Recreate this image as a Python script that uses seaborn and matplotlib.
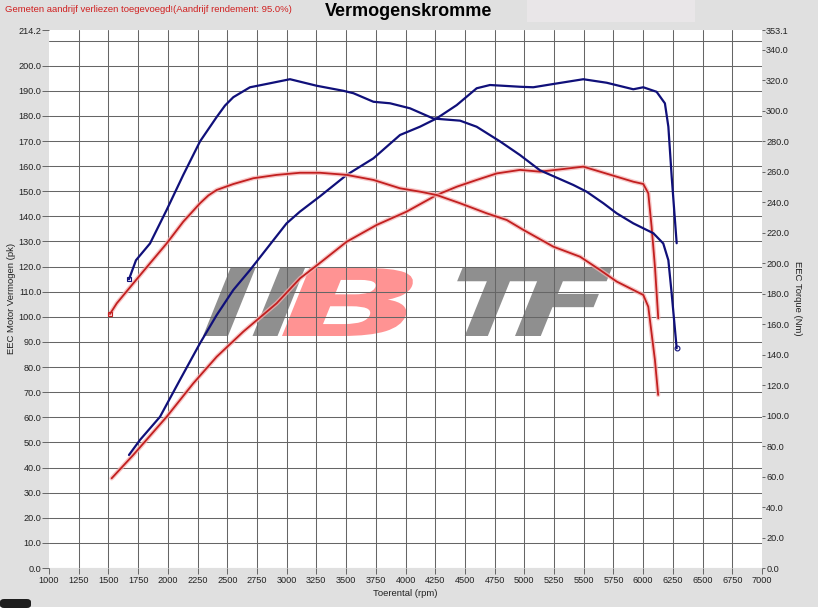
import numpy as np
import pandas as pd
import matplotlib
matplotlib.use("Agg")
import matplotlib.pyplot as plt
import matplotlib.patheffects as pe
from matplotlib.textpath import TextPath
from matplotlib.font_manager import FontProperties
from matplotlib.patches import PathPatch, Rectangle, FancyBboxPatch
from matplotlib.transforms import Affine2D, IdentityTransform
import seaborn as sns

# ---------------- data ----------------
blue_power_rpm = [1673, 1766, 1934, 2102, 2271, 2411, 2551, 2691, 2999, 3112, 3281, 3505, 3730,
                  3954, 4122, 4262, 4431, 4599, 4711, 4964, 5075, 5244, 5496, 5693, 5917, 6001,
                  6113, 6183, 6212, 6240, 6282]
blue_power_pk = [45.0, 51.0, 60.2, 74.9, 89.5, 100.7, 110.7, 118.6, 137.2, 141.9, 148.0, 156.5, 163.1,
                 172.4, 175.7, 179.0, 184.3, 191.0, 192.3, 191.6, 191.4, 192.7, 194.6, 193.2, 190.6, 191.4,
                 189.6, 185.0, 175.7, 155.8, 129.3]

blue_torque_rpm = [1673, 1732, 1850, 1990, 2130, 2271, 2411, 2481, 2551, 2691, 2832, 3028, 3253, 3477, 3562,
                   3730, 3870, 4038, 4234, 4459, 4599, 4795, 4964, 5132, 5412, 5524, 5665, 5777, 5917,
                   6086, 6169, 6212, 6240, 6282]
blue_torque_nm = [189.5, 202.0, 213.0, 235.0, 258.0, 280.0, 296.0, 303.5, 309.0, 315.5, 317.7, 320.8, 316.5, 313.2,
                  311.6, 306.0, 305.0, 301.7, 295.0, 293.6, 289.6, 280.0, 271.0, 261.0, 251.4, 247.0, 239.4,
                  232.8, 226.2, 219.7, 213.0, 202.0, 180.0, 144.2]

red_power_rpm = [1527, 1709, 1990, 2214, 2411, 2635, 2916, 3112, 3281, 3505, 3758, 4010, 4262, 4431,
                 4599, 4768, 4964, 5132, 5300, 5496, 5637, 5777, 5917, 6001, 6043, 6071, 6099, 6127]
red_power_pk = [35.7, 45.0, 60.2, 73.5, 84.1, 94.1, 105.4, 115.3, 121.5, 129.9, 136.6, 141.9, 148.5, 151.8,
                154.5, 157.1, 158.5, 157.8, 158.7, 159.8, 157.8, 155.8, 153.8, 152.9, 149.2, 135.9, 120.0, 99.4]

red_torque_rpm = [1513, 1570, 1709, 1850, 1990, 2130, 2271, 2341, 2411, 2551, 2719, 2916, 3112, 3281, 3505,
                  3730, 3954, 4122, 4262, 4459, 4683, 4852, 4992, 5244, 5469, 5637, 5777, 5917, 6001,
                  6043, 6071, 6099, 6126]
red_torque_nm = [166.7, 173.7, 186.8, 200.0, 213.0, 227.3, 239.4, 244.5, 248.1, 252.0, 255.8, 258.0, 259.4, 259.4,
                 258.0, 254.7, 249.2, 247.0, 244.8, 239.4, 232.8, 228.4, 221.9, 210.9, 204.3, 195.6, 188.0,
                 182.5, 179.2, 171.5, 154.0, 136.5, 113.6]

x_ticks = list(range(1000, 7001, 250))
left_ticks = [float(v) for v in range(0, 201, 10)] + [214.2]
right_ticks = [float(v) for v in range(0, 341, 20)] + [353.1]

title = "Vermogenskromme"
note = "Gemeten aandrijf verliezen toegevoegd!(Aandrijf rendement: 95.0%)"
xlabel = "Toerental (rpm)"
ylabel_left = "EEC Motor Vermogen (pk)"
ylabel_right = "EEC Torque (Nm)"

# ---------------- style ----------------
sns.set_theme(style="white")
plt.rcParams['font.family'] = ['Liberation Sans', 'DejaVu Sans']

W, H = 821, 609
fig = plt.figure(figsize=(W / 100, H / 100), dpi=100)
fig.patch.set_facecolor("white")
bg_grey = "#e0e0e0"
fig.add_artist(Rectangle((0, 2.5 / H), 818 / W, 1.0, transform=fig.transFigure,
                         facecolor=bg_grey, edgecolor="none", zorder=-10))
# lighter box near top
fig.add_artist(Rectangle((527 / W, 1 - 22 / H), (695 - 527) / W, 22 / H, transform=fig.transFigure,
                         facecolor="#e9e6e8", edgecolor="none", zorder=-8))
# dark tab bottom-left
fig.add_artist(FancyBboxPatch((0, 1.0 / H), 31 / W, 9 / H, boxstyle="round,pad=0,rounding_size=0.005",
                              transform=fig.transFigure, facecolor="#1e1e1e", edgecolor="none", zorder=-7))

ax = fig.add_axes([49 / W, 1 - 568 / H, (762 - 49) / W, (568 - 30) / H])
ax.set_facecolor("white")
ax.set_xlim(1000, 7000)
ax.set_ylim(0, 214.2)
ax2 = ax.twinx()
ax2.set_ylim(0, 353.1)

for a in (ax, ax2):
    for s in a.spines.values():
        s.set_visible(False)

# watermark logo (behind grid)
def logo_piece(text, x0, x1, ytop, ybot, color, slant=22):
    tp = TextPath((0, 0), text, size=1, prop=FontProperties(family="DejaVu Sans", weight="bold"))
    bb = tp.get_extents()
    h = ybot - ytop
    shear = h * np.tan(np.radians(slant))
    sx = ((x1 - x0) - shear) / bb.width
    sy = h / bb.height
    tr = (Affine2D().translate(-bb.x0, -bb.y0).scale(sx, sy)
          .skew_deg(slant, 0).translate(x0, H - ybot))
    path = tr.transform_path(tp)
    p = PathPatch(path, facecolor=color, edgecolor="none", transform=IdentityTransform(), zorder=0.5)
    ax.add_patch(p)

logo_piece("II", 203, 305, 268, 336, "#8f8f8f")
logo_piece("B", 282, 425, 268, 336, "#ff9393")
logo_piece("T", 435, 545, 268, 336, "#8f8f8f")
logo_piece("F", 515, 612, 268, 336, "#8f8f8f")

grid_c = "#666666"
for xv in range(1250, 7000, 250):
    ax.axvline(xv, color=grid_c, lw=0.75, zorder=1)
for yv in range(0, 211, 10):
    ax.axhline(yv, color=grid_c, lw=0.75, zorder=1)

blue = "#10107a"
red = "#c21f1f"
glow_red = [pe.Stroke(linewidth=3.2, foreground="#f5b3b3", alpha=0.75), pe.Normal()]

df_bp = pd.DataFrame({"rpm": blue_power_rpm, "val": blue_power_pk})
df_rp = pd.DataFrame({"rpm": red_power_rpm, "val": red_power_pk})
df_bt = pd.DataFrame({"rpm": blue_torque_rpm, "val": blue_torque_nm})
df_rt = pd.DataFrame({"rpm": red_torque_rpm, "val": red_torque_nm})

sns.lineplot(data=df_rp, x="rpm", y="val", ax=ax, color=red, lw=1.3, sort=False, zorder=3,
             path_effects=glow_red)
sns.lineplot(data=df_bp, x="rpm", y="val", ax=ax, color=blue, lw=1.6, sort=False, zorder=4)
sns.lineplot(data=df_rt, x="rpm", y="val", ax=ax2, color=red, lw=1.3, sort=False, zorder=3,
             path_effects=glow_red)
sns.lineplot(data=df_bt, x="rpm", y="val", ax=ax2, color=blue, lw=1.6, sort=False, zorder=4)

# endpoint markers
ax2.plot(blue_torque_rpm[0], blue_torque_nm[0], marker="s", ms=3, mfc="none", mec=blue, mew=0.8, zorder=5)
ax2.plot(blue_torque_rpm[-1], blue_torque_nm[-1], marker="o", ms=3.5, mfc="none", mec=blue, mew=0.8, zorder=5)
ax2.plot(red_torque_rpm[0], red_torque_nm[0], marker="s", ms=3, mfc="none", mec=red, mew=0.8, zorder=5)

ax.set_xticks(x_ticks)
ax.set_xticklabels([str(v) for v in x_ticks])
ax.set_yticks(left_ticks)
ax.set_yticklabels([f"{v:.1f}" for v in left_ticks])
ax2.set_yticks(right_ticks)
ax2.set_yticklabels([f"{v:.1f}" for v in right_ticks])

tick_c = "#666666"
ax.tick_params(axis="x", which="major", labelsize=6.6, colors=tick_c, labelcolor="#222222",
               length=4, width=0.7, direction="out", pad=1.5, bottom=True)
ax.tick_params(axis="y", which="major", labelsize=6.6, colors=tick_c, labelcolor="#222222",
               length=5, width=0.7, direction="out", pad=0.5, left=True)
ax2.tick_params(axis="y", labelsize=6.6, colors=tick_c, labelcolor="#222222",
                length=2.5, width=0.7, direction="out", pad=0.5, right=True)
ax.set_xlabel("")
ax.set_ylabel("")
ax2.set_ylabel("")

fig.text(405 / W, 1 - 594 / H, xlabel, ha="center", va="center", fontsize=6.8, color="#222222")
fig.text(12 / W, 1 - 298 / H, ylabel_left, ha="center", va="center", rotation=90, fontsize=6.8, color="#222222")
fig.text(797 / W, 1 - 298 / H, ylabel_right, ha="center", va="center", rotation=270, fontsize=6.8, color="#222222")
fig.text(409 / W, 1 - 12 / H, title, ha="center", va="center", fontsize=13, fontweight="bold", color="black")
fig.text(5 / W, 1 - 10 / H, note, ha="left", va="center", fontsize=6.8, color="#d02020")

fig.savefig("out.png", dpi=100, facecolor=fig.get_facecolor())
